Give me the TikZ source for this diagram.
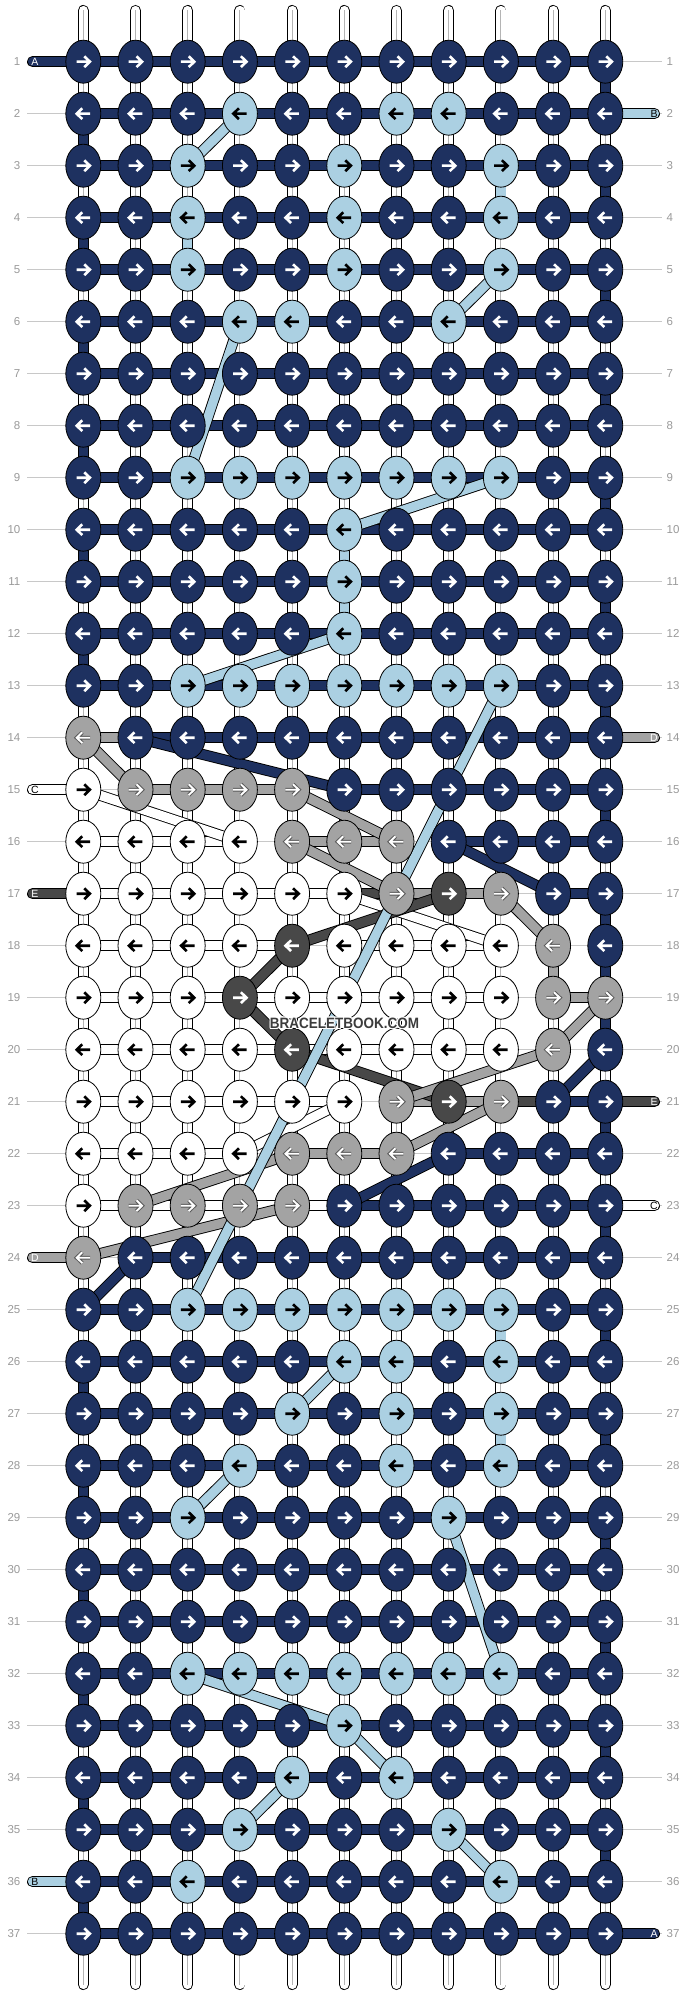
\documentclass[tikz,border=0pt]{standalone}
\usepackage{fontspec}
\setmainfont{Liberation Sans}
\usetikzlibrary{shapes.geometric}
\definecolor{kN}{HTML}{1E3160}
\definecolor{kL}{HTML}{ABD0E2}
\definecolor{kG}{HTML}{A3A3A3}
\definecolor{kD}{HTML}{484848}
\definecolor{kW}{HTML}{FFFFFF}
\definecolor{kGo}{HTML}{5A5A5A}
\definecolor{guide}{HTML}{C8C8C8}
\definecolor{numtxt}{HTML}{9A9A9A}
\definecolor{cline}{HTML}{B4B4B4}
\definecolor{wmark}{HTML}{3C3C3C}
\newcommand\kband[3]{%
  \draw[line width=11pt] (#2) -- (#3);
  \draw[line width=9.2pt, color=k#1] (#2) -- (#3);}
\newcommand\kpill[3]{%
  \draw[line width=11pt, line cap=round] (#2) -- (#3);
  \draw[line width=9.2pt, line cap=round, color=k#1] (#2) -- (#3);}
\tikzset{arrowshape/.pic={
  \draw[line width=\arw, draw=\arc, line cap=butt, line join=miter]
    (-6.8,0) -- (6.0,0) (1.0,-5.4) -- (6.6,0) -- (1.0,5.4);
}}
\begin{document}
\begin{tikzpicture}[x=1pt,y=-1pt,
  knot/.style={ellipse, draw=black, line width=0.8pt, minimum width=35pt, minimum height=43pt, inner sep=0pt},
  numlabel/.style={text=numtxt, font=\fontsize{11.5}{12}\selectfont, inner sep=0pt},
  pilltext/.style={font=\fontsize{10.5}{11}\selectfont, inner sep=0pt},
  guideline/.style={draw=guide, line width=0.9pt},
  wmtext/.style={font=\bfseries\fontsize{15}{15}\selectfont, inner sep=0pt}]
\useasboundingbox[fill=white] (0,0) rectangle (688,1996);
% grid coordinates
\foreach \r in {1,...,37}{
  \pgfmathsetmacro\yy{61.7+(\r-1)*52}
  \coordinate (gl-\r) at (27,\yy);
  \coordinate (gr-\r) at (662,\yy);
  \coordinate (pl-\r) at (32.5,\yy);
  \coordinate (pr-\r) at (654.5,\yy);
  \coordinate (lt-\r) at (35,\yy);
  \coordinate (rt-\r) at (654,\yy);
  \foreach \c in {1,...,11}{
    \pgfmathsetmacro\xx{83.3+(\c-1)*52.2}
    \coordinate (p-\r-\c) at (\xx,\yy);
  }
}
\foreach \c in {1,...,11}{
  \pgfmathsetmacro\xx{83.3+(\c-1)*52.2}
  \coordinate (top-\c) at (\xx,10.5);
  \coordinate (bot-\c) at (\xx,1984.5);
}
% guide lines
\foreach \r in {1,...,37}{\draw[guideline] (gl-\r) -- (gr-\r);}
% base strings
\foreach \c in {1,...,11}{
  \draw[line width=11pt, line cap=round] (top-\c) -- (bot-\c);
  \draw[line width=9.2pt, white, line cap=round] (top-\c) -- (bot-\c);
  \draw[line width=0.9pt, cline] (top-\c) -- (bot-\c);
}
% horizontal row bands
\foreach \r in {1,...,13}{\foreach \c in {1,...,10}{\pgfmathtruncatemacro\cn{\c+1}\kband{N}{p-\r-\c}{p-\r-\cn}}}
\foreach \r in {25,...,37}{\foreach \c in {1,...,10}{\pgfmathtruncatemacro\cn{\c+1}\kband{N}{p-\r-\c}{p-\r-\cn}}}
\foreach \r/\segs in {
  14/{G,N,N,N,N,N,N,N,N,N},
  15/{X,G,G,G,X,N,N,N,N,N},
  16/{W,W,W,X,G,G,X,N,N,N},
  17/{W,W,W,W,W,D,G,G,X,N},
  18/{W,W,W,W,X,W,W,W,X,X},
  19/{W,W,W,W,W,W,W,W,X,G},
  20/{W,W,W,W,W,W,W,W,X,X},
  21/{W,W,W,W,W,X,G,G,D,N},
  22/{W,W,W,X,G,G,X,N,N,N},
  23/{W,W,W,W,W,N,N,N,N,N},
  24/{X,N,N,N,N,N,N,N,N,N}}{
  \foreach \s [count=\c] in \segs {
    \pgfmathtruncatemacro\cn{\c+1}
    \if\s X\else\kband{\s}{p-\r-\c}{p-\r-\cn}\fi
  }
}
% vertical coloured segments
\foreach \r in {1,3,...,35}{\pgfmathtruncatemacro\rn{\r+1}\kband{N}{p-\r-11}{p-\rn-11}}
\kband{N}{p-18-11}{p-19-11}
\foreach \r in {2,4,...,12}{\pgfmathtruncatemacro\rn{\r+1}\kband{N}{p-\r-1}{p-\rn-1}}
\foreach \r in {26,28,...,36}{\pgfmathtruncatemacro\rn{\r+1}\kband{N}{p-\r-1}{p-\rn-1}}
\foreach \cl/\c/\r in {L/9/3,L/3/4,L/6/10,L/6/11,L/9/25,L/9/27,G/10/18}{
  \pgfmathtruncatemacro\rn{\r+1}\kband{\cl}{p-\r-\c}{p-\rn-\c}}
% end strings
\foreach \r/\cl in {1/N,15/W,17/D,24/G,36/L}{\kpill{\cl}{pl-\r}{p-\r-1}}
\foreach \r/\cl in {2/L,14/G,21/D,23/W,37/N}{\kpill{\cl}{pr-\r}{p-\r-11}}
% diagonal strands
\foreach \cl/\ra/\ca/\rb/\cb in {
  W/15/1/16/4, W/17/6/18/9, W/21/6/22/4,
  D/17/8/18/5, D/18/5/19/4, D/19/4/20/5, D/20/5/21/8,
  G/14/1/15/2, G/15/5/16/7, G/16/5/17/7, G/17/9/18/10, G/19/11/20/10,
  G/20/10/21/7, G/21/9/22/7, G/22/5/23/2, G/23/5/24/1,
  N/14/2/15/6, N/16/8/17/10, N/20/11/21/10, N/22/8/23/6, N/24/2/25/1,
  L/2/4/3/3, L/5/9/6/8, L/6/4/9/3, L/9/9/10/6, L/12/6/13/3, L/13/9/25/3,
  L/26/6/27/5, L/28/4/29/3, L/29/8/32/9, L/32/3/33/6, L/33/6/34/7,
  L/34/5/35/4, L/35/8/36/9}{
  \kband{\cl}{p-\ra-\ca}{p-\rb-\cb}}
% knots
\foreach \r/\row in {
  1/{N,N,N,N,N,N,N,N,N,N,N},
  2/{N,N,N,L,N,N,L,L,N,N,N},
  3/{N,N,L,N,N,L,N,N,L,N,N},
  4/{N,N,L,N,N,L,N,N,L,N,N},
  5/{N,N,L,N,N,L,N,N,L,N,N},
  6/{N,N,N,L,L,N,N,L,N,N,N},
  7/{N,N,N,N,N,N,N,N,N,N,N},
  8/{N,N,N,N,N,N,N,N,N,N,N},
  9/{N,N,L,L,L,L,L,L,L,N,N},
  10/{N,N,N,N,N,L,N,N,N,N,N},
  11/{N,N,N,N,N,L,N,N,N,N,N},
  12/{N,N,N,N,N,L,N,N,N,N,N},
  13/{N,N,L,L,L,L,L,L,L,N,N},
  14/{G,N,N,N,N,N,N,N,N,N,N},
  15/{W,G,G,G,G,N,N,N,N,N,N},
  16/{W,W,W,W,G,G,G,N,N,N,N},
  17/{W,W,W,W,W,W,G,D,G,N,N},
  18/{W,W,W,W,D,W,W,W,W,G,N},
  19/{W,W,W,D,W,W,W,W,W,G,G},
  20/{W,W,W,W,D,W,W,W,W,G,N},
  21/{W,W,W,W,W,W,G,D,G,N,N},
  22/{W,W,W,W,G,G,G,N,N,N,N},
  23/{W,G,G,G,G,N,N,N,N,N,N},
  24/{G,N,N,N,N,N,N,N,N,N,N},
  25/{N,N,L,L,L,L,L,L,L,N,N},
  26/{N,N,N,N,N,L,L,N,L,N,N},
  27/{N,N,N,N,L,N,L,N,L,N,N},
  28/{N,N,N,L,N,N,L,N,L,N,N},
  29/{N,N,L,N,N,N,N,L,N,N,N},
  30/{N,N,N,N,N,N,N,N,N,N,N},
  31/{N,N,N,N,N,N,N,N,N,N,N},
  32/{N,N,L,L,L,L,L,L,L,N,N},
  33/{N,N,N,N,N,L,N,N,N,N,N},
  34/{N,N,N,N,L,N,L,N,N,N,N},
  35/{N,N,N,L,N,N,N,L,N,N,N},
  36/{N,N,L,N,N,N,N,N,L,N,N},
  37/{N,N,N,N,N,N,N,N,N,N,N}}{
  \pgfmathtruncatemacro\dir{isodd(\r)?1:-1}
  \foreach \k [count=\c] in \row {
    \node[knot, fill=k\k] (k-\r-\c) at (p-\r-\c) {};
    \if\k G
      \def\arw{3.9pt}\def\arc{kGo}\pic[xscale=\dir] at (k-\r-\c.center) {arrowshape};
      \def\arw{1.9pt}\def\arc{white}\pic[xscale=\dir] at (k-\r-\c.center) {arrowshape};
    \else
      \if\k L\def\arc{black}\else\if\k W\def\arc{black}\else\def\arc{white}\fi\fi
      \def\arw{2.6pt}\pic[xscale=\dir] at (k-\r-\c.center) {arrowshape};
    \fi
  }
}
% row numbers
\foreach \r in {1,...,37}{
  \node[numlabel, anchor=east] (ln-\r) at ([xshift=-6.5pt]gl-\r) {\r};
  \node[numlabel, anchor=west] (rn-\r) at ([xshift=4.5pt]gr-\r) {\r};
}
% string letters
\foreach \r/\t/\tc in {1/A/white,15/C/black,17/E/white,24/D/white,36/B/black}{
  \node[pilltext, text=\tc] (lt-node-\r) at (lt-\r) {\t};}
\foreach \r/\t/\tc in {2/B/black,14/D/white,21/E/white,23/C/black,37/A/white}{
  \node[pilltext, text=\tc] (rt-node-\r) at (rt-\r) {\t};}
% watermark
\coordinate (wm) at (344.5,1023.5);
\foreach \dx/\dy [count=\i] in {-1/0,1/0,0/-1,0/1,-0.8/-0.8,0.8/0.8,-0.8/0.8,0.8/-0.8}{
  \node[wmtext, text=white] (wmh-\i) at ([xshift=\dx pt, yshift=\dy pt]wm) {\scalebox{0.9}[1]{BRACELETBOOK.COM}};}
\node[wmtext, text=wmark] (wmain) at (wm) {\scalebox{0.9}[1]{BRACELETBOOK.COM}};
\end{tikzpicture}
\end{document}
